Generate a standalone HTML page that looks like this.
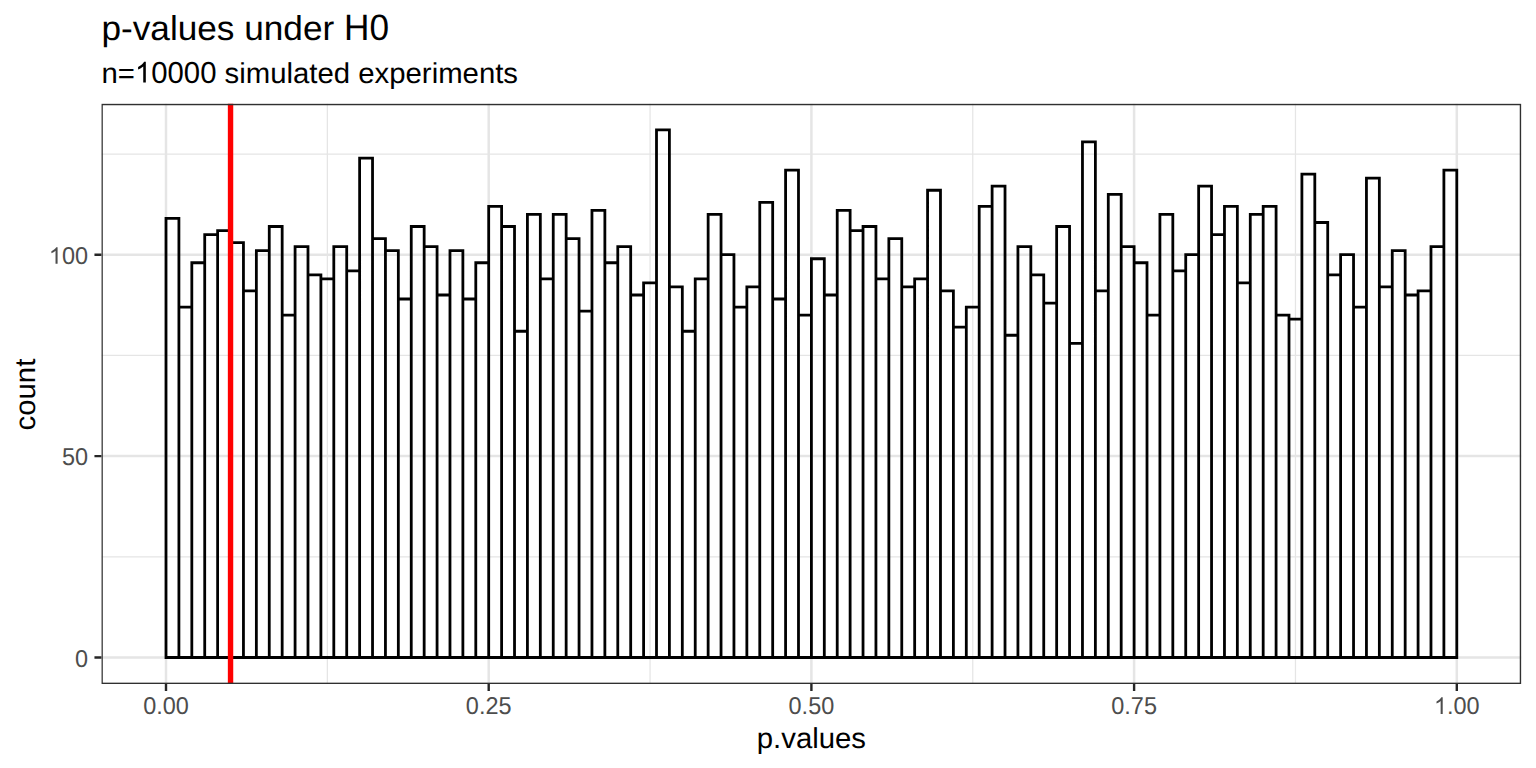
<!DOCTYPE html>
<html><head><meta charset="utf-8"><style>
html,body{margin:0;padding:0;background:#fff;width:1536px;height:768px;overflow:hidden;font-family:"Liberation Sans",sans-serif;}
svg{display:block}
</style></head><body>
<svg width="1536" height="768" viewBox="0 0 1536 768">
<rect width="1536" height="768" fill="#fff"/>
<defs><clipPath id="c"><rect x="101.45" y="103.45" width="1419.95" height="580.45"/></clipPath></defs>
<g clip-path="url(#c)">
<path d="M327.35 103.45V683.9M650.05 103.45V683.9M972.75 103.45V683.9M1295.45 103.45V683.9M101.45 556.8H1521.4M101.45 355.4H1521.4M101.45 154H1521.4" stroke="#E5E5E5" stroke-width="1.25" fill="none"/>
<path d="M166 103.45V683.9M488.7 103.45V683.9M811.4 103.45V683.9M1134.1 103.45V683.9M1456.8 103.45V683.9M101.45 657.5H1521.4M101.45 456.1H1521.4M101.45 254.7H1521.4" stroke="#E5E5E5" stroke-width="2.5" fill="none"/>
<path d="M166 657.5V218.45H178.91V657.5ZM178.91 657.5V307.06H191.82V657.5ZM191.82 657.5V262.76H204.72V657.5ZM204.72 657.5V234.56H217.63V657.5ZM217.63 657.5V230.53H230.54V657.5ZM230.54 657.5V242.62H243.45V657.5ZM243.45 657.5V290.95H256.36V657.5ZM256.36 657.5V250.67H269.26V657.5ZM269.26 657.5V226.5H282.17V657.5ZM282.17 657.5V315.12H295.08V657.5ZM295.08 657.5V246.64H307.99V657.5ZM307.99 657.5V274.84H320.9V657.5ZM320.9 657.5V278.87H333.8V657.5ZM333.8 657.5V246.64H346.71V657.5ZM346.71 657.5V270.81H359.62V657.5ZM359.62 657.5V158.03H372.53V657.5ZM372.53 657.5V238.59H385.44V657.5ZM385.44 657.5V250.67H398.34V657.5ZM398.34 657.5V299.01H411.25V657.5ZM411.25 657.5V226.5H424.16V657.5ZM424.16 657.5V246.64H437.07V657.5ZM437.07 657.5V294.98H449.98V657.5ZM449.98 657.5V250.67H462.88V657.5ZM462.88 657.5V299.01H475.79V657.5ZM475.79 657.5V262.76H488.7V657.5ZM488.7 657.5V206.36H501.61V657.5ZM501.61 657.5V226.5H514.52V657.5ZM514.52 657.5V331.23H527.42V657.5ZM527.42 657.5V214.42H540.33V657.5ZM540.33 657.5V278.87H553.24V657.5ZM553.24 657.5V214.42H566.15V657.5ZM566.15 657.5V238.59H579.06V657.5ZM579.06 657.5V311.09H591.96V657.5ZM591.96 657.5V210.39H604.87V657.5ZM604.87 657.5V262.76H617.78V657.5ZM617.78 657.5V246.64H630.69V657.5ZM630.69 657.5V294.98H643.6V657.5ZM643.6 657.5V282.9H656.5V657.5ZM656.5 657.5V129.83H669.41V657.5ZM669.41 657.5V286.92H682.32V657.5ZM682.32 657.5V331.23H695.23V657.5ZM695.23 657.5V278.87H708.14V657.5ZM708.14 657.5V214.42H721.04V657.5ZM721.04 657.5V254.7H733.95V657.5ZM733.95 657.5V307.06H746.86V657.5ZM746.86 657.5V286.92H759.77V657.5ZM759.77 657.5V202.34H772.68V657.5ZM772.68 657.5V299.01H785.58V657.5ZM785.58 657.5V170.11H798.49V657.5ZM798.49 657.5V315.12H811.4V657.5ZM811.4 657.5V258.73H824.31V657.5ZM824.31 657.5V294.98H837.22V657.5ZM837.22 657.5V210.39H850.12V657.5ZM850.12 657.5V230.53H863.03V657.5ZM863.03 657.5V226.5H875.94V657.5ZM875.94 657.5V278.87H888.85V657.5ZM888.85 657.5V238.59H901.76V657.5ZM901.76 657.5V286.92H914.66V657.5ZM914.66 657.5V278.87H927.57V657.5ZM927.57 657.5V190.25H940.48V657.5ZM940.48 657.5V290.95H953.39V657.5ZM953.39 657.5V327.2H966.3V657.5ZM966.3 657.5V307.06H979.2V657.5ZM979.2 657.5V206.36H992.11V657.5ZM992.11 657.5V186.22H1005.02V657.5ZM1005.02 657.5V335.26H1017.93V657.5ZM1017.93 657.5V246.64H1030.84V657.5ZM1030.84 657.5V274.84H1043.74V657.5ZM1043.74 657.5V303.04H1056.65V657.5ZM1056.65 657.5V226.5H1069.56V657.5ZM1069.56 657.5V343.32H1082.47V657.5ZM1082.47 657.5V141.92H1095.38V657.5ZM1095.38 657.5V290.95H1108.28V657.5ZM1108.28 657.5V194.28H1121.19V657.5ZM1121.19 657.5V246.64H1134.1V657.5ZM1134.1 657.5V262.76H1147.01V657.5ZM1147.01 657.5V315.12H1159.92V657.5ZM1159.92 657.5V214.42H1172.82V657.5ZM1172.82 657.5V270.81H1185.73V657.5ZM1185.73 657.5V254.7H1198.64V657.5ZM1198.64 657.5V186.22H1211.55V657.5ZM1211.55 657.5V234.56H1224.46V657.5ZM1224.46 657.5V206.36H1237.36V657.5ZM1237.36 657.5V282.9H1250.27V657.5ZM1250.27 657.5V214.42H1263.18V657.5ZM1263.18 657.5V206.36H1276.09V657.5ZM1276.09 657.5V315.12H1289V657.5ZM1289 657.5V319.15H1301.9V657.5ZM1301.9 657.5V174.14H1314.81V657.5ZM1314.81 657.5V222.48H1327.72V657.5ZM1327.72 657.5V274.84H1340.63V657.5ZM1340.63 657.5V254.7H1353.54V657.5ZM1353.54 657.5V307.06H1366.44V657.5ZM1366.44 657.5V178.17H1379.35V657.5ZM1379.35 657.5V286.92H1392.26V657.5ZM1392.26 657.5V250.67H1405.17V657.5ZM1405.17 657.5V294.98H1418.08V657.5ZM1418.08 657.5V290.95H1430.98V657.5ZM1430.98 657.5V246.64H1443.89V657.5ZM1443.89 657.5V170.11H1456.8V657.5Z" stroke="#000" stroke-width="2.8" fill="none" stroke-linejoin="miter"/>
<path d="M230.54 103.45V683.9" stroke="#FF0000" stroke-width="5.4"/>
<rect x="102" y="104.45" width="1418.55" height="579" fill="none" stroke="#303030" stroke-width="1.6"/>
</g>
<path d="M166 683.9v7M488.7 683.9v7M811.4 683.9v7M1134.1 683.9v7M1456.8 683.9v7M101.45 657.5h-7M101.45 456.1h-7M101.45 254.7h-7" stroke="#262626" stroke-width="2.4" fill="none"/>
<g font-family="Liberation Sans, sans-serif" text-rendering="geometricPrecision">
<text transform="translate(143.16 713.90) scale(1 1.04)" font-size="23.47" fill="#4D4D4D">0</text>
<text transform="translate(156.21 713.90) scale(1 0.981)" font-size="23.47" fill="#4D4D4D">.</text>
<text transform="translate(162.73 713.90) scale(1 1.04)" font-size="23.47" fill="#4D4D4D">00</text>
<text transform="translate(465.86 713.90) scale(1 1.04)" font-size="23.47" fill="#4D4D4D">0</text>
<text transform="translate(478.91 713.90) scale(1 0.981)" font-size="23.47" fill="#4D4D4D">.</text>
<text transform="translate(485.43 713.90) scale(1 1.04)" font-size="23.47" fill="#4D4D4D">25</text>
<text transform="translate(788.56 713.90) scale(1 1.04)" font-size="23.47" fill="#4D4D4D">0</text>
<text transform="translate(801.61 713.90) scale(1 0.981)" font-size="23.47" fill="#4D4D4D">.</text>
<text transform="translate(808.13 713.90) scale(1 1.04)" font-size="23.47" fill="#4D4D4D">50</text>
<text transform="translate(1111.26 713.90) scale(1 1.04)" font-size="23.47" fill="#4D4D4D">0</text>
<text transform="translate(1124.31 713.90) scale(1 0.981)" font-size="23.47" fill="#4D4D4D">.</text>
<text transform="translate(1130.83 713.90) scale(1 1.04)" font-size="23.47" fill="#4D4D4D">75</text>
<path d="M763 0H583V1147Q518 1085 415 1024Q312 963 223 930V1104Q374 1175 487 1276Q600 1377 647 1472H763Z" fill="#4D4D4D" transform="matrix(0.011460 0 0 -0.011231 1433.96 713.90)"/>
<text transform="translate(1447.01 713.90) scale(1 0.981)" font-size="23.47" fill="#4D4D4D">.</text>
<text transform="translate(1453.53 713.90) scale(1 1.04)" font-size="23.47" fill="#4D4D4D">00</text>
<text transform="translate(74.95 666.50) scale(1 1.04)" font-size="23.47" fill="#4D4D4D">0</text>
<text transform="translate(61.89 465.10) scale(1 1.04)" font-size="23.47" fill="#4D4D4D">50</text>
<path d="M763 0H583V1147Q518 1085 415 1024Q312 963 223 930V1104Q374 1175 487 1276Q600 1377 647 1472H763Z" fill="#4D4D4D" transform="matrix(0.011460 0 0 -0.011231 48.84 263.70)"/>
<text transform="translate(61.89 263.70) scale(1 1.04)" font-size="23.47" fill="#4D4D4D">00</text>
<text transform="translate(101.45 40.20) scale(1 0.981)" font-size="35.2" fill="#000">p-values under</text>
<text transform="translate(344.09 40.20) scale(1 1.04)" font-size="35.2" fill="#000">H0</text>
<text transform="translate(101.45 82.50) scale(1 0.981)" font-size="29.33" fill="#000">n=</text>
<path d="M763 0H583V1147Q518 1085 415 1024Q312 963 223 930V1104Q374 1175 487 1276Q600 1377 647 1472H763Z" fill="#000" transform="matrix(0.014321 0 0 -0.014035 134.89 82.50)"/>
<text transform="translate(151.20 82.50) scale(1 1.04)" font-size="29.33" fill="#000">0000</text>
<text transform="translate(224.60 82.50) scale(1 0.981)" font-size="29.33" fill="#000">simulated experiments</text>
<text transform="translate(756.78 748.10) scale(1 0.981)" font-size="29.33" fill="#000">p.values</text>
<g transform="translate(34.9 394.6) rotate(-90)">
<text transform="translate(-35.87 0.00) scale(1 0.981)" font-size="29.33" fill="#000">count</text>
</g></g>
</svg>
</body></html>
